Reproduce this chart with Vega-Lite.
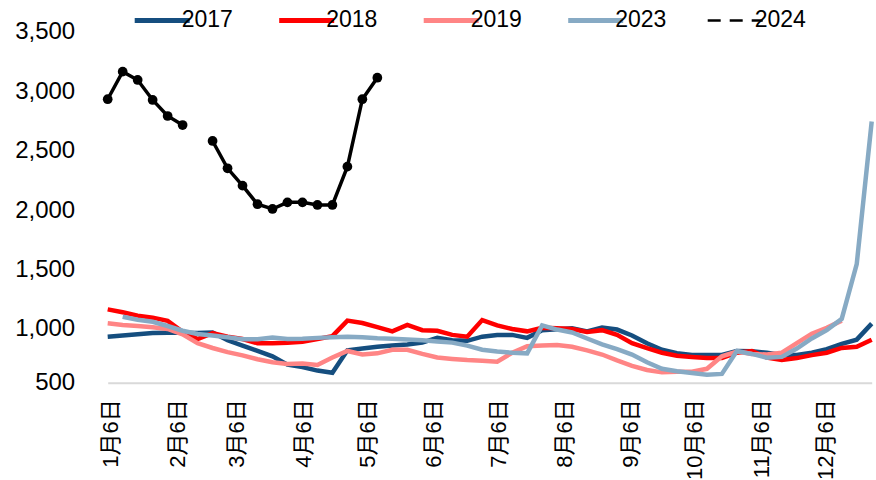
{
  "$schema": "https://vega.github.io/schema/vega-lite/v6.json",
  "width": 764,
  "height": 351,
  "autosize": {"type": "none"},
  "padding": {"left": 107.7, "top": 31.7, "right": 4.3, "bottom": 97.3},
  "background": "white",
  "config": {
    "view": {"stroke": null},
    "font": "Liberation Sans",
    "axis": {"ticks": false, "tickSize": 0, "grid": false, "labelColor": "#000000", "titleColor": "#000000"},
    "legend": {"padding": 0}
  },
  "data": {
    "values": [
      {"date": "2023-01-06", "2017": 935, "2018": 1165, "2019": 1048, "2023": null, "2024": 2932},
      {"date": "2023-01-13", "2017": 945, "2018": 1140, "2019": 1034, "2023": 1103, "2024": 3164},
      {"date": "2023-01-20", "2017": 955, "2018": 1112, "2019": 1025, "2023": 1078, "2024": 3094},
      {"date": "2023-01-27", "2017": 965, "2018": 1095, "2019": 1014, "2023": 1060, "2024": 2926},
      {"date": "2023-02-03", "2017": 968, "2018": 1068, "2019": 1000, "2023": 1025, "2024": 2791},
      {"date": "2023-02-10", "2017": 968, "2018": 975, "2019": 955, "2023": 985, "2024": 2715},
      {"date": "2023-02-17", "2017": 965, "2018": 915, "2019": 880, "2023": 958, "2024": null},
      {"date": "2023-02-24", "2017": 970, "2018": 965, "2019": 840, "2023": 945, "2024": 2581},
      {"date": "2023-03-03", "2017": 905, "2018": 935, "2019": 805, "2023": 930, "2024": 2351},
      {"date": "2023-03-10", "2017": 860, "2018": 915, "2019": 778, "2023": 913, "2024": 2205},
      {"date": "2023-03-17", "2017": 815, "2018": 880, "2019": 745, "2023": 913, "2024": 2049},
      {"date": "2023-03-24", "2017": 770, "2018": 880, "2019": 720, "2023": 928, "2024": 2009},
      {"date": "2023-03-31", "2017": 700, "2018": 885, "2019": 705, "2023": 915, "2024": 2065},
      {"date": "2023-04-07", "2017": 680, "2018": 893, "2019": 710, "2023": 918, "2024": 2065},
      {"date": "2023-04-14", "2017": 650, "2018": 915, "2019": 697, "2023": 925, "2024": 2043},
      {"date": "2023-04-21", "2017": 632, "2018": 940, "2019": 760, "2023": 930, "2024": 2043},
      {"date": "2023-04-28", "2017": 820, "2018": 1070, "2019": 815, "2023": 935, "2024": 2365},
      {"date": "2023-05-05", "2017": 835, "2018": 1050, "2019": 785, "2023": 930, "2024": 2932},
      {"date": "2023-05-12", "2017": 850, "2018": 1015, "2019": 795, "2023": 922, "2024": 3113},
      {"date": "2023-05-19", "2017": 860, "2018": 980, "2019": 825, "2023": 918, "2024": null},
      {"date": "2023-05-26", "2017": 870, "2018": 1034, "2019": 825, "2023": 912, "2024": null},
      {"date": "2023-06-02", "2017": 885, "2018": 990, "2019": 790, "2023": 905, "2024": null},
      {"date": "2023-06-09", "2017": 925, "2018": 985, "2019": 760, "2023": 895, "2024": null},
      {"date": "2023-06-16", "2017": 905, "2018": 950, "2019": 748, "2023": 885, "2024": null},
      {"date": "2023-06-23", "2017": 900, "2018": 935, "2019": 738, "2023": 860, "2024": null},
      {"date": "2023-06-30", "2017": 935, "2018": 1075, "2019": 732, "2023": 825, "2024": null},
      {"date": "2023-07-07", "2017": 950, "2018": 1030, "2019": 725, "2023": 810, "2024": null},
      {"date": "2023-07-14", "2017": 950, "2018": 1000, "2019": 800, "2023": 800, "2024": null},
      {"date": "2023-07-21", "2017": 925, "2018": 980, "2019": 855, "2023": 795, "2024": null},
      {"date": "2023-07-28", "2017": 990, "2018": 1010, "2019": 860, "2023": 1030, "2024": null},
      {"date": "2023-08-04", "2017": 997, "2018": 1005, "2019": 865, "2023": 995, "2024": null},
      {"date": "2023-08-11", "2017": 1005, "2018": 1000, "2019": 850, "2023": 970, "2024": null},
      {"date": "2023-08-18", "2017": 980, "2018": 975, "2019": 820, "2023": 920, "2024": null},
      {"date": "2023-08-25", "2017": 1012, "2018": 990, "2019": 785, "2023": 870, "2024": null},
      {"date": "2023-09-01", "2017": 995, "2018": 950, "2019": 735, "2023": 830, "2024": null},
      {"date": "2023-09-08", "2017": 945, "2018": 880, "2019": 690, "2023": 785, "2024": null},
      {"date": "2023-09-15", "2017": 880, "2018": 838, "2019": 655, "2023": 720, "2024": null},
      {"date": "2023-09-22", "2017": 825, "2018": 800, "2019": 635, "2023": 665, "2024": null},
      {"date": "2023-09-29", "2017": 796, "2018": 775, "2019": 640, "2023": 645, "2024": null},
      {"date": "2023-10-06", "2017": 781, "2018": 765, "2019": 640, "2023": 630, "2024": null},
      {"date": "2023-10-13", "2017": 781, "2018": 755, "2019": 665, "2023": 615, "2024": null},
      {"date": "2023-10-20", "2017": 781, "2018": 755, "2019": 770, "2023": 622, "2024": null},
      {"date": "2023-10-27", "2017": 815, "2018": 800, "2019": 810, "2023": 815, "2024": null},
      {"date": "2023-11-03", "2017": 812, "2018": 815, "2019": 790, "2023": 790, "2024": null},
      {"date": "2023-11-10", "2017": 800, "2018": 760, "2019": 785, "2023": 758, "2024": null},
      {"date": "2023-11-17", "2017": 781, "2018": 740, "2019": 800, "2023": 765, "2024": null},
      {"date": "2023-11-24", "2017": 781, "2018": 755, "2019": 880, "2023": 835, "2024": null},
      {"date": "2023-12-01", "2017": 800, "2018": 780, "2019": 960, "2023": 920, "2024": null},
      {"date": "2023-12-08", "2017": 830, "2018": 800, "2019": 1010, "2023": 990, "2024": null},
      {"date": "2023-12-15", "2017": 875, "2018": 840, "2019": 1070, "2023": 1085, "2024": null},
      {"date": "2023-12-22", "2017": 910, "2018": 850, "2019": null, "2023": 1545, "2024": null},
      {"date": "2023-12-29", "2017": 1045, "2018": 910, "2019": null, "2023": 2745, "2024": null}
    ]
  },
  "transform": [
    {"fold": ["2017", "2018", "2019", "2023", "2024"], "as": ["year", "value"]}
  ],
  "encoding": {
    "x": {
      "field": "date",
      "type": "temporal",
      "scale": {"type": "utc", "domain": [{"year": 2023, "month": 1, "date": 6, "utc": true}, {"year": 2023, "month": 12, "date": 29, "utc": true}]},
      "axis": {
        "title": null,
        "values": [
          {"year": 2023, "month": 1, "date": 6, "utc": true},
          {"year": 2023, "month": 2, "date": 6, "utc": true},
          {"year": 2023, "month": 3, "date": 6, "utc": true},
          {"year": 2023, "month": 4, "date": 6, "utc": true},
          {"year": 2023, "month": 5, "date": 6, "utc": true},
          {"year": 2023, "month": 6, "date": 6, "utc": true},
          {"year": 2023, "month": 7, "date": 6, "utc": true},
          {"year": 2023, "month": 8, "date": 6, "utc": true},
          {"year": 2023, "month": 9, "date": 6, "utc": true},
          {"year": 2023, "month": 10, "date": 6, "utc": true},
          {"year": 2023, "month": 11, "date": 6, "utc": true},
          {"year": 2023, "month": 12, "date": 6, "utc": true}
        ],
        "labelExpr": "(utcmonth(datum.value) + 1) + '月' + utcdate(datum.value) + '日'",
        "labelAngle": -90,
        "labelFont": "Liberation Sans, Noto Sans CJK SC",
        "labelFontSize": 22,
        "labelPadding": 16,
        "labelOffset": 3,
        "labelOverlap": false,
        "labelBound": false,
        "labelFlush": false,
        "domainColor": "#d9d9d9",
        "domainWidth": 2
      }
    },
    "y": {
      "field": "value",
      "type": "quantitative",
      "scale": {"domain": [548, 3500], "nice": false, "zero": false},
      "axis": {
        "title": null,
        "values": [548, 1000, 1500, 2000, 2500, 3000, 3500],
        "labelExpr": "datum.value < 600 ? '500' : format(datum.value, ',')",
        "labelFontSize": 24,
        "labelPadding": 33,
        "domain": false,
        "labelFlush": false,
        "labelOverlap": false
      }
    }
  },
  "layer": [
    {
      "transform": [{"filter": "datum.year != '2024'"}],
      "mark": {"type": "line", "strokeWidth": 4.5, "invalid": "break-paths-show-domains"},
      "encoding": {
        "color": {
          "field": "year",
          "type": "nominal",
          "scale": {"domain": ["2017", "2018", "2019", "2023", "2024"], "range": ["#154e7f", "#ff0000", "#ff8585", "#87aac4", "#000000"]},
          "legend": {
            "title": null,
            "orient": "none",
            "direction": "horizontal",
            "legendX": 43,
            "legendY": -23,
            "symbolType": "stroke",
            "symbolSize": 3025,
            "symbolStrokeWidth": 5,
            "labelFontSize": 23,
            "labelOffset": 8,
            "columnPadding": 35.5,
            "labelColor": "#000000",
            "encode": {"symbols": {"update": {"strokeDash": {"signal": "datum.value == '2024' ? [13, 9] : [1, 0]"}, "strokeWidth": {"signal": "datum.value == '2024' ? 2.5 : 5"}}}}
          }
        }
      }
    },
    {
      "transform": [{"filter": "datum.year == '2024'"}],
      "mark": {"type": "line", "strokeWidth": 3.5, "invalid": "break-paths-show-domains"},
      "encoding": {"color": {"field": "year", "type": "nominal"}}
    },
    {
      "transform": [{"filter": "datum.year == '2024' && isValid(datum.value)"}],
      "mark": {"type": "point", "filled": true, "size": 95, "opacity": 1, "color": "#000000"},
      "encoding": {}
    }
  ]
}
